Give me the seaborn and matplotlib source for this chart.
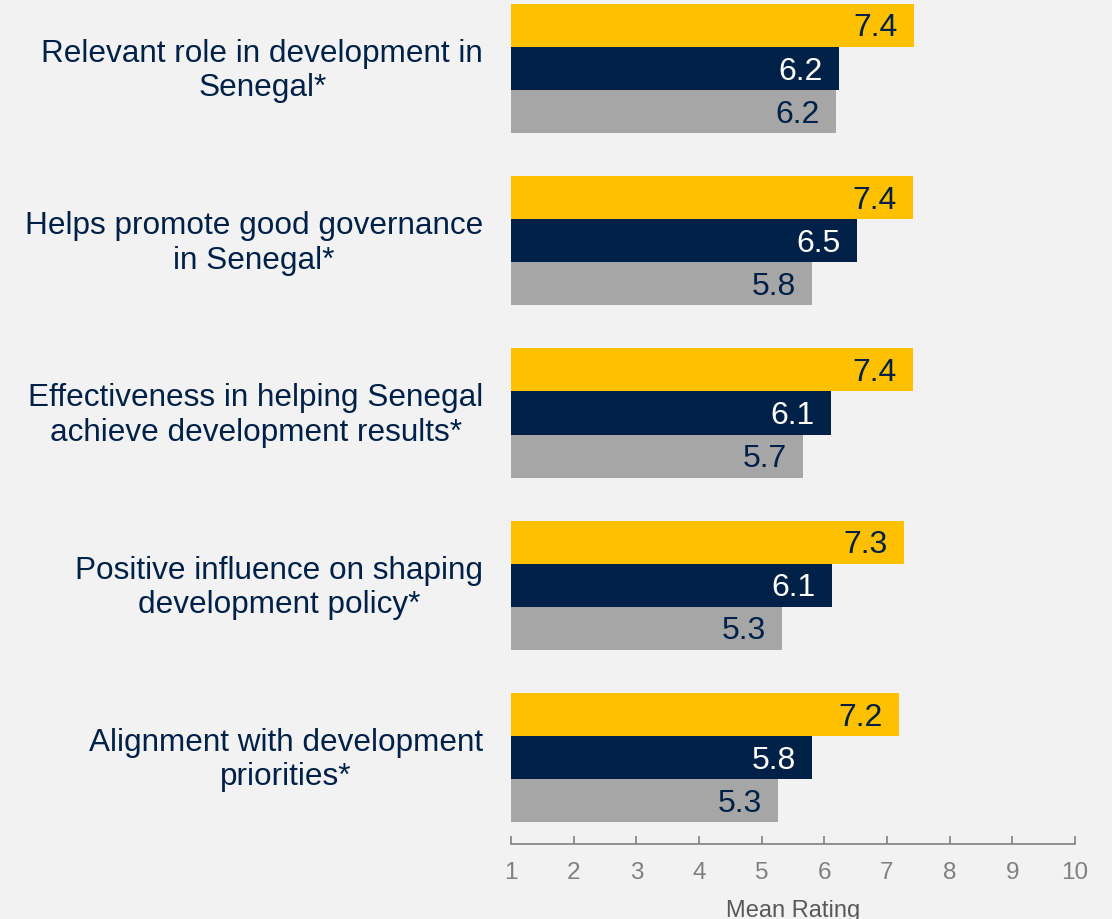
import matplotlib
matplotlib.use("Agg")
import matplotlib.pyplot as plt
import matplotlib.transforms as mtransforms
import pandas as pd
import seaborn as sns

# values
items = [
    "Relevant role in development in\nSenegal*",
    "Helps promote good governance\nin Senegal*",
    "Effectiveness in helping Senegal\nachieve development results*",
    "Positive influence on shaping\ndevelopment policy*",
    "Alignment with development\npriorities*",
]
series_names = ["Series 1", "Series 2", "Series 3"]
yellow_vals = [7.43, 7.41, 7.41, 7.27, 7.19]
navy_vals = [6.23, 6.52, 6.10, 6.12, 5.80]
gray_vals = [6.18, 5.80, 5.66, 5.32, 5.26]

BG = "#F2F2F2"
NAVY = "#002147"
colors = ["#FFC000", NAVY, "#A6A6A6"]
text_colors = [NAVY, "white", NAVY]

rows = []
for name, vals in zip(series_names, [yellow_vals, navy_vals, gray_vals]):
    for item, v in zip(items, vals):
        rows.append({"item": item, "series": name, "rating": v})
df = pd.DataFrame(rows)

sns.set_theme(style="white")
plt.rcParams["font.family"] = ["Liberation Sans", "DejaVu Sans"]

fig = plt.figure(figsize=(11.12, 9.2), dpi=100, facecolor=BG)
ax = fig.add_axes([511 / 1112, 75 / 920, 564 / 1112, 845 / 920])
ax.set_facecolor(BG)

sns.barplot(data=df, y="item", x="rating", hue="series", order=items,
            hue_order=series_names, palette=colors, orient="h", width=0.75,
            saturation=1, linewidth=0, ax=ax, legend=False)

for container, tc in zip(ax.containers, text_colors):
    for bar in container:
        w = bar.get_width()
        ax.annotate(f"{w:.1f}", (w, bar.get_y() + bar.get_height() / 2),
                    xytext=(-11.5, -1.5), textcoords="offset points",
                    ha="right", va="center", fontsize=23, color=tc)

ax.set_xlim(1, 10)
ax.set_ylim(4.502, -0.403)
ax.set_xticks(range(1, 11))
ax.tick_params(axis="x", direction="in", length=6, width=1.2, color="#808080",
               labelsize=17.5, labelcolor="#808080", pad=12, bottom=True)
ax.tick_params(axis="y", length=0, pad=20, labelsize=22.7, labelcolor=NAVY)
shift = mtransforms.ScaledTranslation(0, 3 / 72, fig.dpi_scale_trans)
for lab in ax.get_yticklabels():
    lab.set_multialignment("center")
    lab.set_transform(lab.get_transform() + shift)

for s in ["top", "right", "left"]:
    ax.spines[s].set_visible(False)
ax.spines["bottom"].set_color("#808080")
ax.spines["bottom"].set_linewidth(1.2)
ax.set_xlabel("")
ax.set_ylabel("")

fig.text(793 / 1112, 1 - 917 / 920, "Mean Rating", ha="center", va="baseline",
         fontsize=17, color="#595959")

fig.savefig("out.png", dpi=100, facecolor=BG)
